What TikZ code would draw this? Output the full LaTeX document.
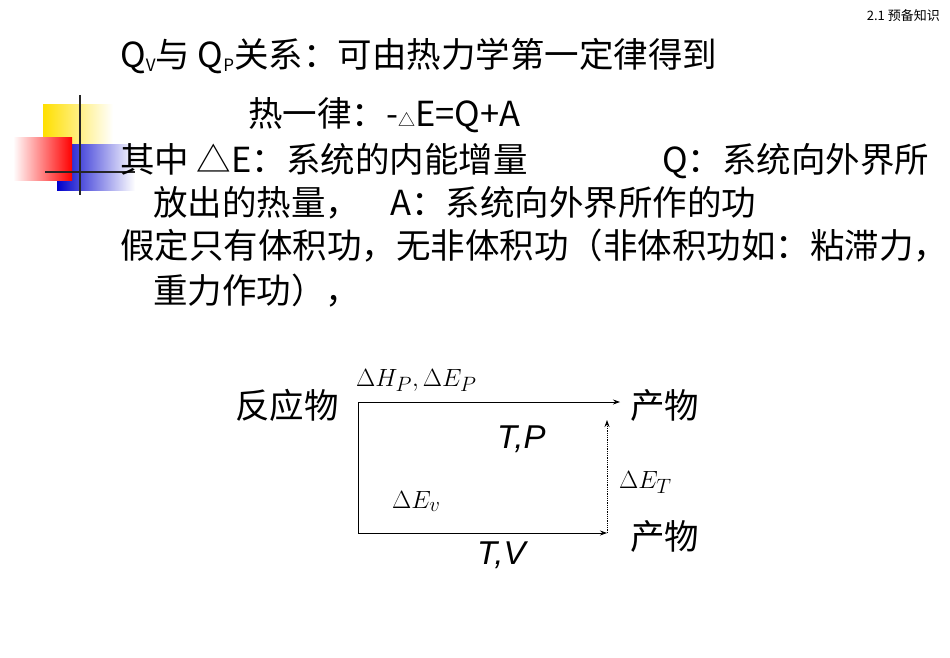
\documentclass[tikz,border=0pt]{standalone}
\usepackage{fontspec}
\usetikzlibrary{arrows.meta}
\setmainfont{Liberation Sans}
\newfontfamily\cjk{Noto Sans CJK SC}
\begin{document}
\begin{tikzpicture}[x=1pt,y=-1pt,
  t/.style={anchor=base west,inner sep=0pt,font=\cjk\fontsize{34.5}{38}\selectfont},
  d/.style={anchor=base west,inner sep=0pt,font=\fontsize{32}{34}\selectfont},
  s/.style={anchor=base west,inner sep=0pt,font=\fontsize{33}{34}\selectfont\itshape},
  arr/.style={-{Stealth[length=7pt,width=5pt]},line width=0.8pt}]
\useasboundingbox (0,0) rectangle (950,658);
% logo
\shade[left color=yellow!75!orange,right color=white] (43,105) rectangle (113,148);
\shade[left color=blue!80!black,right color=white] (57,145) rectangle (135,190);
\shade[right color=red,left color=white] (13,138) rectangle (72,180);
\draw[line width=1.8pt,black!85] (80,95) -- (80,195);
\draw[line width=1.8pt,black!85] (45,172) -- (135,172);
% header
\node[anchor=base east,inner sep=0pt,font=\cjk\fontsize{13}{15}\selectfont] (hdr) at (940,21) {2.1 预备知识};
% text
\node[t] (l1) at (120,68) {Q\raisebox{-4pt}{\fontsize{17}{17}\selectfont V}与 Q\raisebox{-4pt}{\fontsize{17}{17}\selectfont P}关系：可由热力学第一定律得到};
\node[t] (l2) at (248,127) {热一律：-{\fontsize{17}{17}\selectfont △}E=Q+A};
\node[t] (l3) at (120,172) {其中 △E：系统的内能增量};
\node[t] (l3b) at (662,172) {Q：系统向外界所};
\node[t] (l4) at (153,215) {放出的热量，};
\node[t] (l4b) at (390,215) {A：系统向外界所作的功};
\node[t] (l5) at (120,258) {假定只有体积功，无非体积功（非体积功如：粘滞力，};
\node[t] (l6) at (153,303) {重力作功），};
% diagram
\node[t] (r) at (235,418) {反应物};
\node[t] (p1) at (630,418) {产物};
\node[t] (p2) at (630,549) {产物};
\coordinate (a) at (358,402);
\coordinate (b) at (358,533);
\coordinate (c) at (620,402);
\coordinate (e) at (607,533);
\coordinate (f) at (607,420);
\draw[line width=0.8pt] (a) -- (b);
\draw[arr] (a) -- (c);
\draw[arr] (b) -- (e);
\draw[arr,densely dotted] (e) -- (f);
\node[d] (hp) at (356,386) {$\Delta H_P,\Delta E_P$};
\node[s] (tp) at (497,448) {T,P};
\node[d] (et) at (619,488) {$\Delta E_T$};
\node[d] (ev) at (392,508) {$\Delta E_v$};
\node[s] (tv) at (477,564) {T,V};
\end{tikzpicture}
\end{document}
